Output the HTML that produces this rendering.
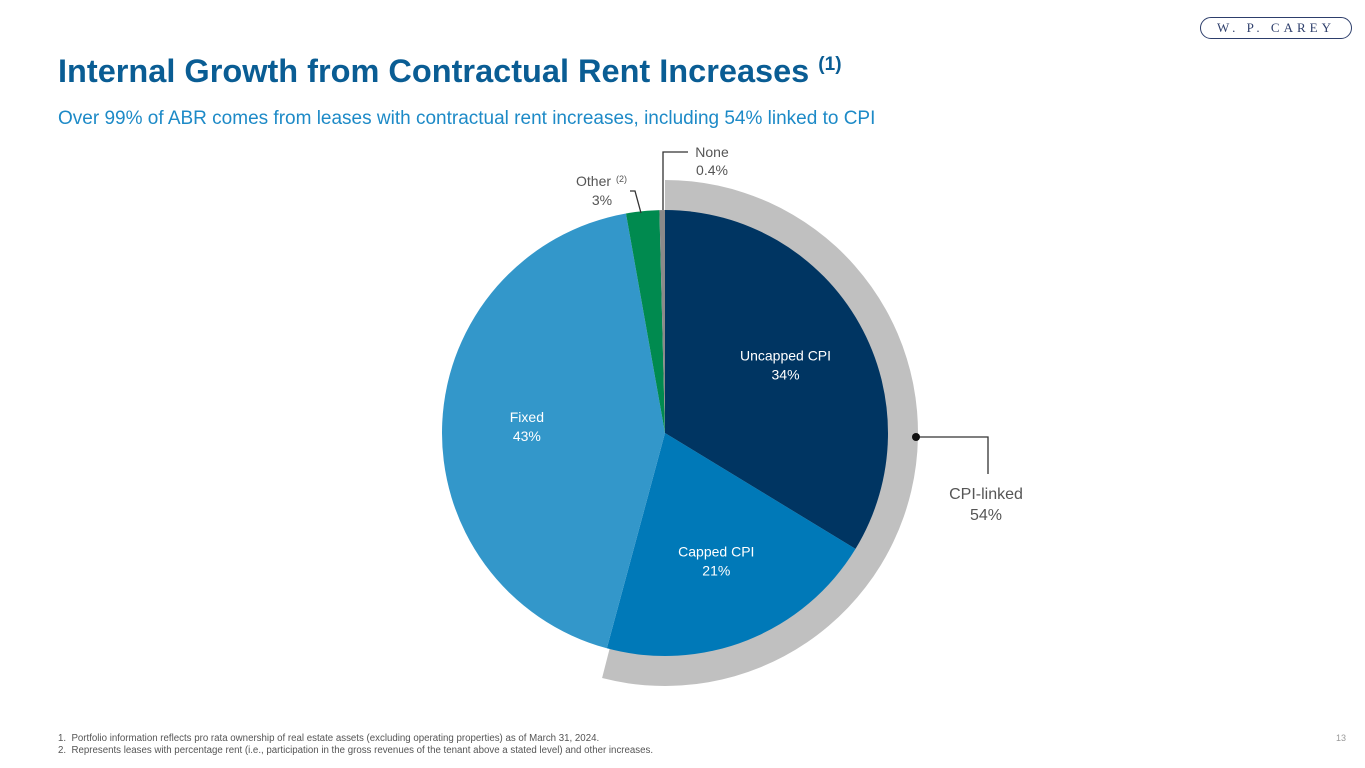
<!DOCTYPE html>
<html><head><meta charset="utf-8"><style>
body{margin:0;width:1365px;height:768px;background:#fff;font-family:"Liberation Sans",sans-serif;position:relative;overflow:hidden}
.t{position:absolute;white-space:nowrap}
</style></head><body>
<div class="t" style="left:58px;top:53px;font-size:32.5px;font-weight:bold;color:#0a5d94">Internal Growth from Contractual Rent Increases <sup style="font-size:19px">(1)</sup></div>
<div class="t" style="left:58px;top:108px;font-size:19px;color:#1d8ac7">Over 99% of ABR comes from leases with contractual rent increases, including 54% linked to CPI</div>
<div class="t" style="left:1200px;top:17px;width:150px;height:20px;border:1.3px solid #2d3e6b;border-radius:11px;font-family:'Liberation Serif',serif;font-size:13px;color:#2d3e6b;text-align:center;line-height:20px;letter-spacing:4px">W. P. CAREY</div>
<svg id="chart" width="1365" height="768" style="position:absolute;left:0;top:0"></svg>
<div class="t" style="left:58px;top:733px;font-size:9.7px;color:#555">1.&nbsp; Portfolio information reflects pro rata ownership of real estate assets (excluding operating properties) as of March 31, 2024.</div>
<div class="t" style="left:58px;top:745px;font-size:9.7px;color:#555">2.&nbsp; Represents leases with percentage rent (i.e., participation in the gross revenues of the tenant above a stated level) and other increases.</div>
<div class="t" style="left:1336px;top:733px;font-size:9px;color:#999">13</div>
<script>
const categories=["Uncapped CPI","Capped CPI","Fixed","Other","None"];
const values=[33.7,20.5,43.0,2.4,0.4];
const labels=["34%","21%","43%","3%","0.4%"];
const cpiLinked=54;
const colors=["#003562","#0079b8","#3397ca","#008a4f","#8a8a8a"];
const cx=665,cy=433,r=223,R=253;
const svg=document.getElementById('chart');
const NS='http://www.w3.org/2000/svg';
const total=values.reduce((a,b)=>a+b,0);
function pt(frac,rad){const a=frac*2*Math.PI;return [cx+rad*Math.sin(a),cy-rad*Math.cos(a)];}
function wedge(f0,f1,rad,fill,name){const p=document.createElementNS(NS,'path');const [x0,y0]=pt(f0,rad),[x1,y1]=pt(f1,rad);const large=(f1-f0)>0.5?1:0;p.setAttribute('d',`M${cx},${cy}L${x0},${y0}A${rad},${rad} 0 ${large} 1 ${x1},${y1}Z`);p.setAttribute('fill',fill);


svg.appendChild(p);return p;}
wedge(0,cpiLinked/100,R,'#c0c0c0','cpi-linked-ring');
let acc=0;
values.forEach((v,i)=>{const f0=acc/total;acc+=v;const f1=acc/total;wedge(f0,f1,r,colors[i],'slice-'+categories[i].toLowerCase().replace(/ /g,'-'));});
function txt(x,y,s,fill,size,name,anchor){const t=document.createElementNS(NS,'text');t.setAttribute('x',x);t.setAttribute('y',y);t.setAttribute('text-anchor',anchor||'middle');t.setAttribute('font-size',size);t.setAttribute('fill',fill);t.setAttribute('font-family','Liberation Sans, sans-serif');t.textContent=s;


svg.appendChild(t);}
acc=0;
values.forEach((v,i)=>{const mid=(acc+v/2)/total;acc+=v;if(i<3){const [x,y]=pt(mid,r*0.62);txt(x,y-5,categories[i],'#fff',14,'label-'+i);txt(x,y+14,labels[i],'#fff',14,'value-'+i);}});
function line(d,name){const p=document.createElementNS(NS,'path');p.setAttribute('d',d);p.setAttribute('stroke','#333');p.setAttribute('fill','none');p.setAttribute('stroke-width','1.3');


svg.appendChild(p);}
line('M663,210L663,152L688,152','none-leader');
line('M641,213L635,191L630,191','other-leader');
txt(712,157,categories[4],'#555',14,'none-label');txt(712,175,labels[4],'#555',14,'none-value');
txt(576,186,'Other','#555',14,'other-label','start');
txt(616,182,'(2)','#555',9,'other-sup','start');
txt(602,205,labels[3],'#555',14,'other-value');
line('M916,437L988,437L988,474','cpi-leader');
const c=document.createElementNS(NS,'circle');c.setAttribute('cx',916);c.setAttribute('cy',437);c.setAttribute('r',4);c.setAttribute('fill','#111');


svg.appendChild(c);
txt(986,499,'CPI-linked','#555',16,'cpi-linked-label');txt(986,520,cpiLinked+'%','#555',16,'cpi-linked-value');
</script>
</body></html>
